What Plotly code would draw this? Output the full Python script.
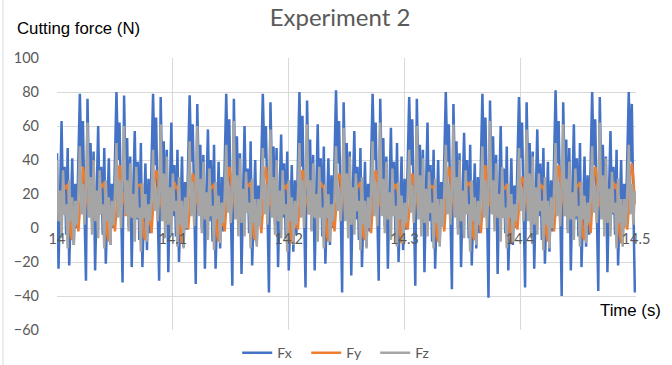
import numpy as np
import plotly.graph_objects as go

# Sampling grid: 24 samples per tool revolution (period ~0.0316 s), starting at 14.0 s
t_start = 14.0
period = 0.0316
samples_per_cycle = 24

# Fx (N): partial lead-in cycle, 15 full cycles, partial end
fx = [
    44, -24, 18, 63, 8, 36, -4, 47, -22, 14, 41, -10, 26, 0, 42,
    79, 36, 63, 12, -31, 76, 24, 50, 4, 45, -25, 18, 60, 8, 36, -4, 47, -21, 14, 41, -10, 26, 0, 43,
    80, 40, 62, 15, -32, 78, 27, 53, 1, 42, -23, 21, 57, 5, 39, -7, 50, -23, 11, 38, -13, 29, -3, 40,
    79, 37, 65, 13, -31, 77, 25, 51, 3, 46, -26, 19, 62, 7, 37, -5, 46, -20, 13, 42, -11, 27, -1, 44,
    78, 39, 61, 16, -33, 73, 28, 49, 0, 43, -24, 22, 58, 4, 40, -8, 49, -24, 10, 39, -12, 30, -2, 41,
    79, 35, 64, 11, -34, 76, 23, 54, 5, 44, -27, 17, 60, 9, 35, -3, 51, -22, 15, 40, -9, 25, 1, 42,
    79, 41, 60, 14, -38, 74, 29, 48, 2, 47, -23, 20, 55, 6, 38, -6, 45, -25, 12, 37, -14, 28, -4, 43,
    80, 36, 66, 12, -35, 75, 26, 52, -1, 43, -25, 18, 61, 7, 41, -5, 48, -21, 13, 41, -10, 31, 0, 40,
    81, 38, 63, 15, -38, 74, 24, 50, 4, 45, -28, 21, 57, 5, 36, -7, 47, -23, 11, 39, -11, 26, -2, 44,
    79, 40, 62, 13, -31, 76, 27, 53, 1, 42, -24, 19, 59, 8, 39, -4, 50, -20, 14, 42, -13, 29, -1, 41,
    77, 37, 64, 16, -34, 76, 25, 49, 3, 46, -26, 22, 62, 4, 37, -8, 46, -24, 10, 40, -9, 27, 1, 43,
    80, 39, 61, 11, -36, 73, 28, 51, 0, 44, -23, 17, 56, 9, 40, -6, 49, -22, 15, 38, -12, 30, -3, 42,
    79, 36, 65, 14, -41, 75, 23, 54, 5, 43, -27, 20, 60, 6, 35, -3, 48, -25, 12, 41, -10, 25, 0, 40,
    77, 41, 62, 12, -35, 74, 29, 50, 2, 45, -24, 18, 58, 7, 38, -7, 47, -21, 13, 39, -14, 28, -2, 44,
    81, 38, 63, 15, -40, 74, 26, 52, -1, 47, -25, 21, 61, 5, 41, -5, 50, -23, 11, 42, -11, 31, -4, 41,
    80, 37, 64, 13, -37, 77, 24, 49, 4, 42, -26, 19, 57, 8, 36, -4, 46, -22, 14, 40, -9, 26, 1, 43,
    80, 39, 73, 14, -38,
]

# Fy (N)
fy = [
    20, 12, 18, 10, 22, 25, 23, 26, 15, -4, -7, 8, 1, 9, -2,
    12, 28, 36, 30, 14, 20, 8, 18, 22, 20, 12, 18, 10, 22, 26, 24, 27, 15, -4, -8, 6, 1, 9, -2,
    10, 30, 37, 28, 15, 21, 7, 19, 23, 19, 13, 17, 11, 21, 25, 25, 26, 14, -5, -7, 5, 2, 8, -3,
    13, 27, 34, 31, 13, 19, 9, 17, 21, 21, 11, 19, 9, 23, 27, 23, 25, 16, -3, -9, 7, 0, 10, -1,
    11, 26, 32, 29, 14, 22, 8, 18, 22, 20, 12, 18, 10, 22, 24, 24, 26, 15, -4, -8, 6, 1, 9, -2,
    12, 29, 36, 30, 15, 20, 7, 19, 23, 19, 13, 17, 11, 21, 26, 25, 27, 14, -5, -7, 5, 2, 8, -3,
    10, 30, 36, 28, 13, 21, 9, 17, 21, 21, 11, 19, 9, 23, 25, 23, 26, 16, -3, -9, 7, 0, 10, -1,
    13, 28, 34, 31, 14, 19, 8, 18, 22, 20, 12, 18, 10, 22, 27, 24, 25, 15, -4, -8, 6, 1, 9, -2,
    11, 27, 32, 29, 15, 22, 7, 19, 23, 19, 13, 17, 11, 21, 24, 25, 27, 14, -5, -7, 5, 2, 8, -3,
    12, 28, 34, 30, 13, 20, 9, 17, 21, 21, 11, 19, 9, 23, 26, 23, 26, 16, -3, -9, 7, 0, 10, -1,
    10, 26, 32, 28, 14, 21, 8, 18, 22, 20, 12, 18, 10, 22, 25, 24, 25, 15, -4, -8, 6, 1, 9, -2,
    13, 30, 36, 31, 15, 19, 7, 19, 23, 19, 13, 17, 11, 21, 27, 25, 27, 14, -5, -7, 5, 2, 8, -3,
    11, 29, 37, 29, 13, 22, 9, 17, 21, 21, 11, 19, 9, 23, 24, 23, 26, 16, -3, -9, 7, 0, 10, -1,
    12, 25, 30, 28, 14, 20, 8, 18, 22, 20, 12, 18, 10, 22, 26, 24, 25, 15, -4, -8, 6, 1, 9, -2,
    10, 30, 37, 30, 15, 21, 7, 19, 23, 19, 13, 17, 11, 21, 25, 25, 27, 14, -5, -7, 5, 2, 8, -3,
    13, 29, 36, 31, 13, 19, 9, 17, 21, 21, 11, 19, 9, 23, 27, 23, 26, 16, -3, -9, 7, 0, 10, -1,
    12, 31, 38, 30, 14,
]

# Fz (N)
fz = [
    40, 4, 22, -6, 34, 8, 14, -12, 28, 4, 18, -10, 16, 2, 20,
    48, 8, 26, 2, 22, 62, 6, 30, -4, 40, 4, 22, -6, 34, 8, 14, -12, 28, 4, 18, -10, 16, 2, 20,
    50, 6, 28, 0, 24, 60, 8, 28, -2, 38, 6, 20, -8, 36, 6, 12, -14, 26, 6, 20, -8, 14, 4, 18,
    46, 10, 24, 4, 20, 61, 4, 32, -6, 42, 2, 24, -4, 32, 10, 16, -11, 30, 2, 16, -12, 18, 0, 22,
    51, 7, 27, 1, 23, 60, 7, 29, -3, 39, 5, 21, -7, 35, 7, 13, -13, 27, 5, 19, -9, 15, 3, 19,
    49, 9, 25, 3, 21, 63, 5, 31, -5, 41, 3, 23, -5, 33, 9, 15, -12, 29, 3, 17, -11, 17, 1, 21,
    47, 8, 26, 2, 22, 58, 6, 30, -4, 40, 4, 22, -6, 34, 8, 14, -14, 28, 4, 18, -10, 16, 2, 20,
    50, 6, 28, 0, 24, 61, 8, 28, -2, 38, 6, 20, -8, 36, 6, 12, -12, 26, 6, 20, -8, 14, 4, 18,
    48, 10, 24, 4, 20, 59, 4, 32, -6, 42, 2, 24, -4, 32, 10, 16, -13, 30, 2, 16, -12, 18, 0, 22,
    51, 7, 27, 1, 23, 62, 7, 29, -3, 39, 5, 21, -7, 35, 7, 13, -11, 27, 5, 19, -9, 15, 3, 19,
    46, 9, 25, 3, 21, 60, 5, 31, -5, 41, 3, 23, -5, 33, 9, 15, -12, 29, 3, 17, -11, 17, 1, 21,
    49, 8, 26, 2, 22, 61, 6, 30, -4, 40, 4, 22, -6, 34, 8, 14, -14, 28, 4, 18, -10, 16, 2, 20,
    48, 6, 28, 0, 24, 63, 8, 28, -2, 38, 6, 20, -8, 36, 6, 12, -12, 26, 6, 20, -8, 14, 4, 18,
    47, 10, 24, 4, 20, 58, 4, 32, -6, 42, 2, 24, -4, 32, 10, 16, -13, 30, 2, 16, -12, 18, 0, 22,
    50, 7, 27, 1, 23, 61, 7, 29, -3, 39, 5, 21, -7, 35, 7, 13, -11, 27, 5, 19, -9, 15, 3, 19,
    48, 9, 25, 3, 21, 62, 5, 31, -5, 41, 3, 23, -5, 33, 9, 15, -12, 29, 3, 17, -11, 17, 1, 21,
    49, 8, 26, 2, 22,
]

series_names = ["Fx", "Fy", "Fz"]
series_colors = ["#4472C4", "#ED7D31", "#A5A5A5"]

dt = period / samples_per_cycle
time = t_start + np.arange(len(fx)) * dt

fig = go.Figure()
for name, vals, col in zip(series_names, [fx, fy, fz], series_colors):
    fig.add_trace(go.Scatter(x=time, y=vals, mode="lines", name=name,
                             line=dict(color=col, width=2.5)))

grid = "#D9D9D9"
fig.update_layout(
    width=672, height=365,
    margin=dict(l=57, r=36, t=58, b=35, autoexpand=False),
    paper_bgcolor="white", plot_bgcolor="white",
    font=dict(family="Lato", color="#595959"),
    title=dict(text="Experiment 2", x=340 / 672, xref="container", xanchor="center",
               y=1 - 18 / 365, yref="container", yanchor="middle",
               font=dict(size=24, color="#595959", family="Lato")),
    xaxis=dict(range=[14, 14.5], tick0=14, dtick=0.1, showgrid=True, gridcolor=grid,
               gridwidth=1, zeroline=False, showline=False, ticks="",
               anchor="free", position=0.375, automargin=False,
               tickfont=dict(size=14.5, color="#595959")),
    yaxis=dict(range=[-60, 100], dtick=20, showgrid=True, gridcolor=grid, gridwidth=1,
               zeroline=False, showline=False, ticks="", ticklabelstandoff=17,
               automargin=False,
               tickfont=dict(size=14.5, color="#595959")),
    legend=dict(orientation="h", x=0.49, xanchor="center", y=-0.085, yanchor="middle",
                font=dict(size=14, color="#595959"), bgcolor="rgba(0,0,0,0)",
                entrywidth=24),
    annotations=[
        dict(text="Cutting force (N)", xref="paper", yref="paper",
             x=-42 / 579, y=(330 - 29) / 272, xanchor="left", yanchor="middle",
             showarrow=False, font=dict(size=16.8, color="black", family="Liberation Sans")),
        dict(text="Time (s)", xref="paper", yref="paper",
             x=(598 - 57) / 579, y=(330 - 310) / 272, xanchor="left", yanchor="middle",
             showarrow=False, font=dict(size=16.8, color="black", family="Liberation Sans")),
    ],
    shapes=[
        dict(type="line", xref="paper", yref="paper", x0=-54 / 579, x1=-54 / 579,
             y0=-35 / 272, y1=330 / 272, line=dict(color=grid, width=1)),
    ],
)

fig.write_html("out.html", config={"displayModeBar": False},
               post_script="document.body.style.margin='0';")
